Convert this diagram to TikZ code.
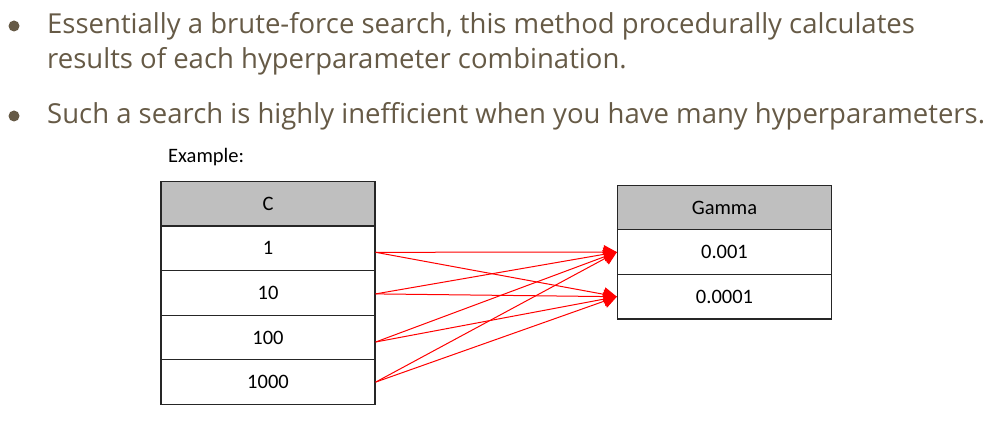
\documentclass[tikz,border=0pt]{standalone}
\usepackage{fontspec}
\setmainfont{Open Sans}
\newfontfamily\tabfont{Carlito}
\usetikzlibrary{arrows.meta}
\definecolor{bulletbrown}{RGB}{102,90,70}
\definecolor{hdrgray}{RGB}{191,191,191}
\definecolor{edgegray}{RGB}{38,38,38}
\begin{document}
\begin{tikzpicture}[x=1pt,y=-1pt,
  cell/.style={draw=edgegray,line width=1.3pt,fill=white,minimum width=214pt,minimum height=44.6pt,inner sep=0pt,font=\tabfont\fontsize{20.5}{24}\selectfont,text=black},
  hdr/.style={cell,fill=hdrgray},
  btext/.style={anchor=base west,inner sep=0pt,text=bulletbrown,font=\fontsize{27.5}{34.5}\selectfont},
  bdot/.style={circle,fill=bulletbrown,minimum size=11pt,inner sep=0pt},
  link/.style={draw=red,line width=1pt,-{Triangle[length=13pt,width=14pt]}}]
\useasboundingbox (0,0) rectangle (998,430);
\node[bdot] (d1) at (14,26) {};
\node[btext] (t1) at (47,34) {Essentially a brute-force search, this method procedurally calculates};
\node[btext] (t2) at (47,69) {results of each hyperparameter combination.};
\node[bdot] (d2) at (14,116) {};
\node[btext] (t3) at (47,123.5) {Such a search is highly inefficient when you have many hyperparameters.};
\node[anchor=base west,inner sep=0pt,font=\tabfont\fontsize{20.5}{24}\selectfont] (ex) at (168,163) {Example:};
\node[hdr] (c0) at (268,203.5) {C};
\node[cell] (c1) at (268,248.3) {1};
\node[cell] (c2) at (268,292.9) {10};
\node[cell] (c3) at (268,337.5) {100};
\node[cell] (c4) at (268,382.1) {1000};
\node[hdr] (g0) at (724.5,207.5) {Gamma};
\node[cell] (g1) at (724.5,252.1) {0.001};
\node[cell] (g2) at (724.5,296.7) {0.0001};
\coordinate (s1) at ([yshift=-4pt]c1.east);
\coordinate (s2) at ([yshift=-1pt]c2.east);
\coordinate (s3) at ([yshift=-4.5pt]c3.east);
\coordinate (s4) at ([yshift=0pt]c4.east);
\foreach \s in {s1,s2,s3,s4}{
  \draw[link] (\s) -- (g1.west);
  \draw[link] (\s) -- (g2.west);
}
\end{tikzpicture}
\end{document}
